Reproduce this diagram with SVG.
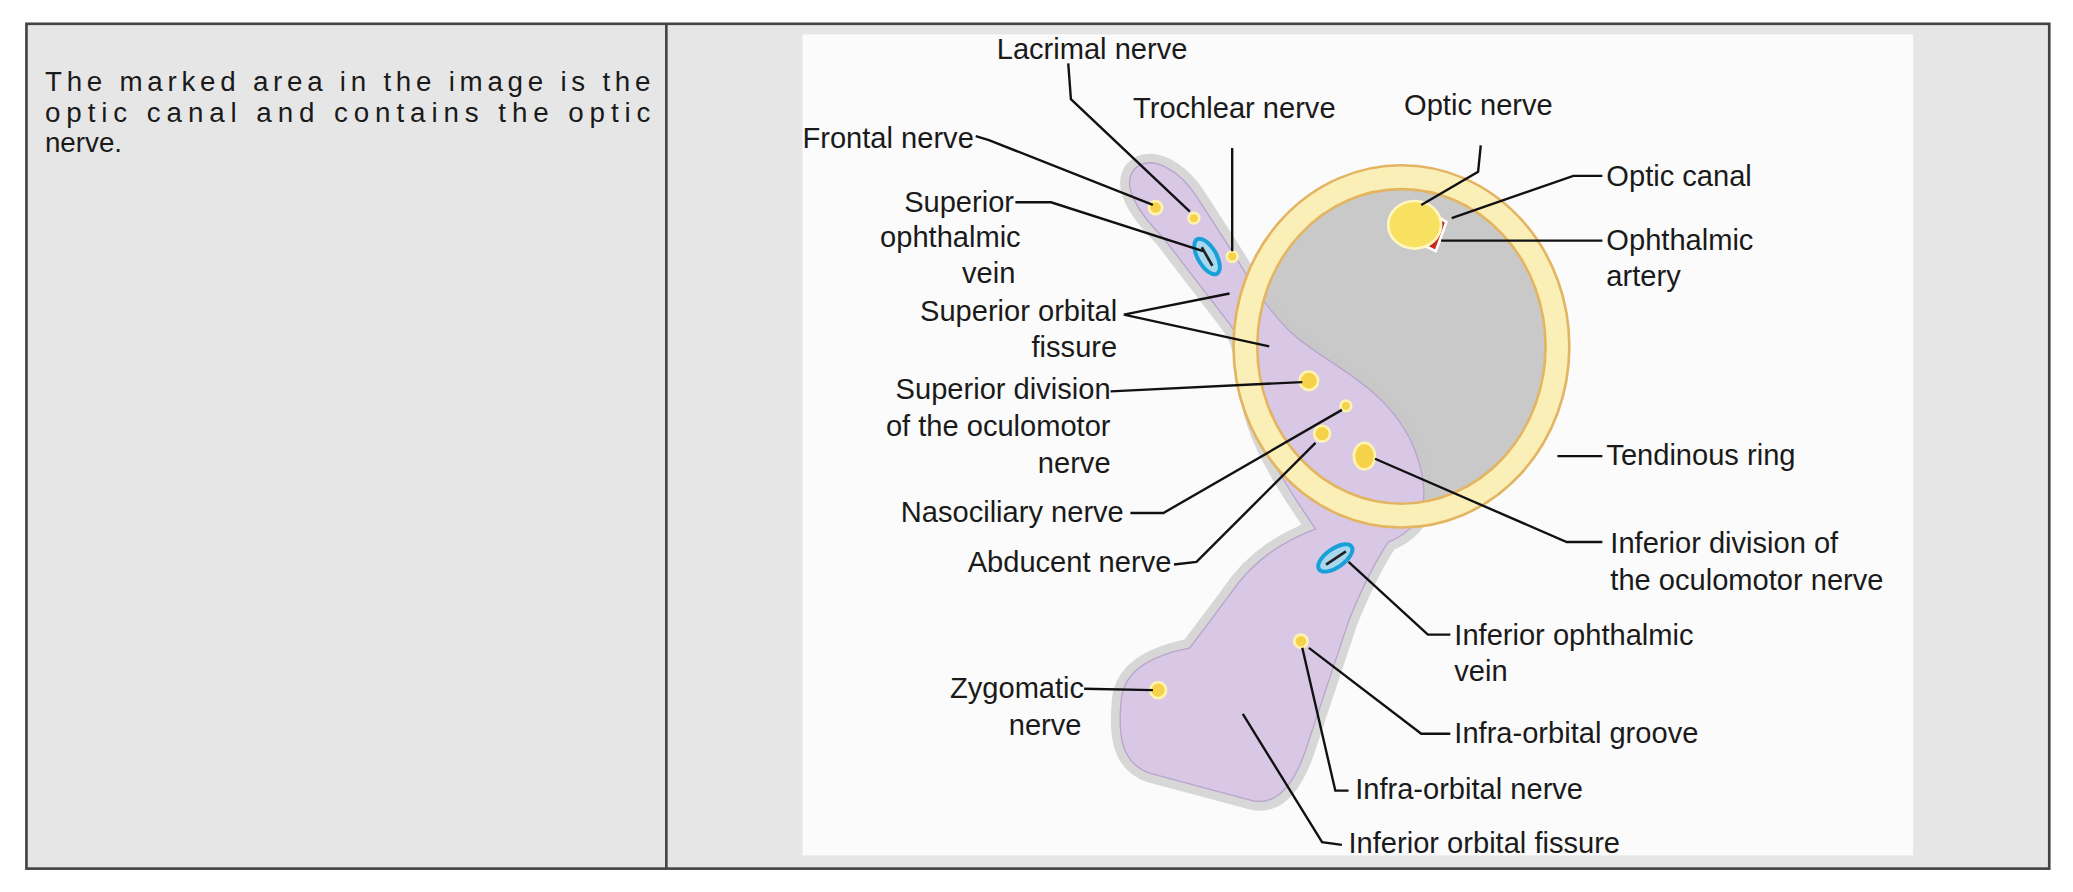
<svg xmlns="http://www.w3.org/2000/svg" width="2073" height="892" viewBox="0 0 2073 892">
<style>
text{font-family:"Liberation Sans",Arial,sans-serif;fill:#1a1a1a}
.l{font-size:22px}
.e{text-anchor:end}
.c{fill:none;stroke:#111;stroke-width:1.8}
.dot{fill:#f6d24a;stroke:#fff3b0;stroke-width:2}
</style>
<rect width="2073" height="892" fill="#fff"/>
<g transform="scale(1.3221)">
<g id="table">
<rect x="20" y="18" width="1530" height="639" fill="#e6e6e6" stroke="#444" stroke-width="2"/>
<line x1="504" y1="18" x2="504" y2="657" stroke="#444" stroke-width="2"/>
</g>
<g id="caption" style="font-size:21px">
<text x="34" y="69" textLength="458" lengthAdjust="spacing">The marked area in the image is the</text>
<text x="34" y="92" textLength="458" lengthAdjust="spacing">optic canal and contains the optic</text>
<text x="34" y="115">nerve.</text>
</g>
<g id="figure">
<rect x="607" y="26" width="840" height="621" fill="#fbfbfb"/>
<circle cx="1060" cy="262" r="125" fill="#c9c9c9"/>
<path d="M858,128 C870,116 892,128 906,150 L935,195 C950,220 960,235 975,250 C1000,275 1050,290 1070,340 C1085,380 1075,400 1050,410 C1040,425 1030,445 1020,470 L990,560 C978,600 962,610 945,605 L870,585 C850,578 845,560 848,530 C850,505 875,495 900,490 L930,450 C950,420 975,408 995,400 C985,385 960,350 950,320 C940,290 945,265 930,245 L880,180 C860,160 848,140 858,128 Z" fill="#d8c8e6" stroke="#c8c8c8" stroke-width="14" stroke-linejoin="round" stroke-opacity="0.7"/>
<path d="M858,128 C870,116 892,128 906,150 L935,195 C950,220 960,235 975,250 C1000,275 1050,290 1070,340 C1085,380 1075,400 1050,410 C1040,425 1030,445 1020,470 L990,560 C978,600 962,610 945,605 L870,585 C850,578 845,560 848,530 C850,505 875,495 900,490 L930,450 C950,420 975,408 995,400 C985,385 960,350 950,320 C940,290 945,265 930,245 L880,180 C860,160 848,140 858,128 Z" fill="#d8c8e6" stroke="#b9a5cc" stroke-width="1"/>
<ellipse cx="1060" cy="262" rx="118" ry="128" fill="none" stroke="#e3b562" stroke-width="20"/>
<ellipse cx="1060" cy="262" rx="118" ry="128" fill="none" stroke="#fbefb8" stroke-width="16"/>
<path d="M1082,160 L1094,168 L1086,190 L1078,186 Z" fill="#c8281e" stroke="#fff" stroke-width="2"/>
<ellipse cx="1070" cy="170" rx="20" ry="18" fill="#f8e060" stroke="#fff6c0" stroke-width="2"/>
<circle class="dot" cx="874" cy="157" r="5"/>
<circle class="dot" cx="903" cy="165" r="4"/>
<circle class="dot" cx="932" cy="194" r="4"/>
<circle class="dot" cx="990" cy="288" r="7"/>
<circle class="dot" cx="1018" cy="307" r="4"/>
<circle class="dot" cx="1000" cy="328" r="6"/>
<ellipse class="dot" cx="1032" cy="345" rx="8" ry="10"/>
<circle class="dot" cx="984" cy="485" r="5"/>
<circle class="dot" cx="876" cy="522" r="6"/>
<ellipse cx="913" cy="194" rx="7" ry="15" transform="rotate(-30 913 194)" fill="#a8d8ee" stroke="#1aa0d8" stroke-width="3"/>
<line x1="909" y1="187" x2="917" y2="201" stroke="#222" stroke-width="2"/>
<ellipse cx="1010" cy="422" rx="15" ry="7" transform="rotate(-35 1010 422)" fill="#a8d8ee" stroke="#1aa0d8" stroke-width="3"/>
<line x1="1003" y1="427" x2="1018" y2="417" stroke="#222" stroke-width="2"/>
</g>
<g id="connectors">
<path class="c" d="M808,48 L810,75 L900,160"/>
<path class="c" d="M932,112 L932,190"/>
<path class="c" d="M1120,110 L1118,130 L1075,155"/>
<path class="c" d="M738,103 L748,106 L872,155"/>
<path class="c" d="M768,153 L795,153 L910,190"/>
<path class="c" d="M850,238 L930,222 M850,238 L960,262"/>
<path class="c" d="M840,296 L985,289"/>
<path class="c" d="M855,388 L880,388 L1015,310"/>
<path class="c" d="M888,427 L905,425 L995,335"/>
<path class="c" d="M820,521 L872,522"/>
<path class="c" d="M1212,133 L1190,133 L1098,165"/>
<path class="c" d="M1212,182 L1090,182"/>
<path class="c" d="M1178,345 L1212,345"/>
<path class="c" d="M1212,410 L1185,410 L1040,347"/>
<path class="c" d="M1097,480 L1080,480 L1020,425"/>
<path class="c" d="M1097,555 L1075,555 L990,490"/>
<path class="c" d="M1020,598 L1010,598 L985,490"/>
<path class="c" d="M1015,639 L1000,637 L940,540"/>
</g>
<g id="labels" class="l">
<text x="826" y="45" text-anchor="middle">Lacrimal nerve</text>
<text x="857" y="89">Trochlear nerve</text>
<text x="1062" y="87">Optic nerve</text>
<text x="607" y="112">Frontal nerve</text>
<text class="e" x="767" y="160">Superior</text>
<text class="e" x="772" y="187">ophthalmic</text>
<text class="e" x="768" y="214">vein</text>
<text class="e" x="845" y="243">Superior orbital</text>
<text class="e" x="845" y="270">fissure</text>
<text class="e" x="840" y="302">Superior division</text>
<text class="e" x="840" y="330">of the oculomotor</text>
<text class="e" x="840" y="358">nerve</text>
<text class="e" x="850" y="395">Nasociliary nerve</text>
<text class="e" x="886" y="433">Abducent nerve</text>
<text class="e" x="820" y="528">Zygomatic</text>
<text class="e" x="818" y="556">nerve</text>
<text x="1215" y="141">Optic canal</text>
<text x="1215" y="189">Ophthalmic</text>
<text x="1215" y="216">artery</text>
<text x="1215" y="352">Tendinous ring</text>
<text x="1218" y="418">Inferior division of</text>
<text x="1218" y="446">the oculomotor nerve</text>
<text x="1100" y="488">Inferior ophthalmic</text>
<text x="1100" y="515">vein</text>
<text x="1100" y="562">Infra-orbital groove</text>
<text x="1025" y="604">Infra-orbital nerve</text>
<text x="1020" y="645">Inferior orbital fissure</text>
</g>
</g>
</svg>
